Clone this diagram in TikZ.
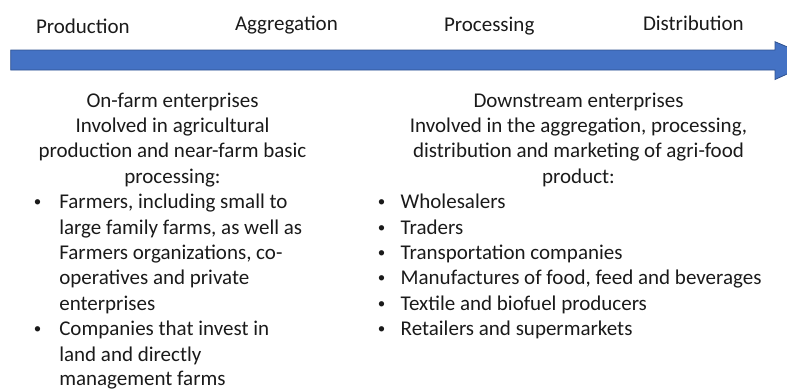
\documentclass[tikz,border=0pt]{standalone}
\usepackage{fontspec}
\setmainfont{Carlito}
\definecolor{arrowfill}{HTML}{4472C4}
\definecolor{arrowline}{HTML}{2F528F}
\definecolor{txt}{HTML}{1A1A1A}
\begin{document}
\begin{tikzpicture}[x=1bp,y=-1bp,
  every node/.style={inner sep=0pt,outer sep=0pt,text=txt,font=\fontsize{21bp}{25.4bp}\selectfont},
  ln/.style={anchor=base west},
  hd/.style={anchor=base},
  bul/.style={anchor=base,font=\fontsize{15bp}{25.4bp}\selectfont}]
\useasboundingbox (0,0) rectangle (787,388);
\begin{scope}
\clip (0,0) rectangle (787,388);
\draw[fill=arrowfill,draw=arrowline,line width=0.8bp]
  (10.7,50) -- (775,50) -- (775,41.7) -- (818,60) -- (775,79.5) -- (775,70) -- (10.7,70) -- cycle;
\end{scope}
% stage labels
\node[ln] (prod) at (36,33) {Production};
\node[ln] (aggr) at (235,30) {Aggregation};
\node[ln] (proc) at (444,31.7) {Processing};
\node[ln] (dist) at (643,30) {Distribution};
% left block
\node[hd] (l1) at (172.5,107) {On-farm enterprises};
\node[hd] (l2) at (172.5,132.4) {Involved in agricultural};
\node[hd] (l3) at (172.5,157.8) {production and near-farm basic};
\node[hd] (l4) at (172.5,183.2) {processing:};
\node[bul] (lb1) at (37.5,206.6) {•};
\node[ln] (l5) at (59.3,208.6) {Farmers, including small to};
\node[ln] (l6) at (59.3,234) {large family farms, as well as};
\node[ln] (l7) at (59.3,259.4) {Farmers organizations, co-};
\node[ln] (l8) at (59.3,284.8) {operatives and private};
\node[ln] (l9) at (59.3,310.2) {enterprises};
\node[bul] (lb2) at (37.5,333.6) {•};
\node[ln] (l10) at (59.3,335.6) {Companies that invest in};
\node[ln] (l11) at (59.3,361) {land and directly};
\node[ln] (l12) at (59.3,385.5) {management farms};
% right block
\node[hd] (r1) at (578.5,107) {Downstream enterprises};
\node[hd] (r2) at (578.5,132.4) {Involved in the aggregation, processing,};
\node[hd] (r3) at (578.5,157.8) {distribution and marketing of agri-food};
\node[hd] (r4) at (578.5,183.2) {product:};
\node[bul] (rb1) at (381.5,206.6) {•};
\node[ln] (r5) at (400.7,208.6) {Wholesalers};
\node[bul] (rb2) at (381.5,232) {•};
\node[ln] (r6) at (400.7,234) {Traders};
\node[bul] (rb3) at (381.5,257.4) {•};
\node[ln] (r7) at (400.7,259.4) {Transportation companies};
\node[bul] (rb4) at (381.5,282.8) {•};
\node[ln] (r8) at (400.7,284.8) {Manufactures of food, feed and beverages};
\node[bul] (rb5) at (381.5,308.2) {•};
\node[ln] (r9) at (400.7,310.2) {Textile and biofuel producers};
\node[bul] (rb6) at (381.5,333.6) {•};
\node[ln] (r10) at (400.7,335.6) {Retailers and supermarkets};
\end{tikzpicture}
\end{document}
